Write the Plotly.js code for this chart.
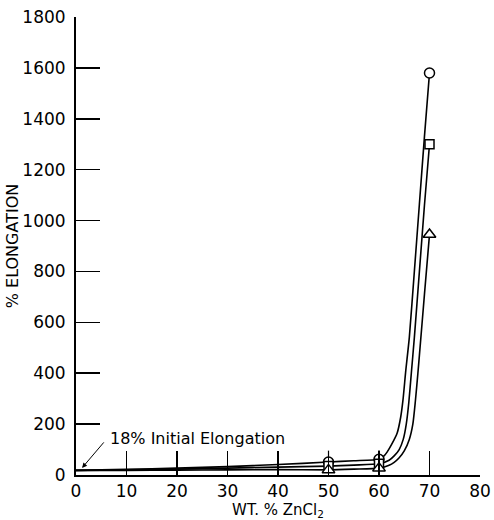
<!DOCTYPE html>
<html>
<head>
<meta charset="utf-8">
<script src="https://cdn.plot.ly/plotly-3.0.1.min.js"></script>
<style>html,body{margin:0;padding:0;background:#fff;}#chart{width:494px;height:520px;}</style>
</head>
<body>
<div id="chart"></div>
<script>
// Fitted curves
const circleCurveX = [0, 10, 20, 30, 40, 50, 55, 60, 61, 61.6, 62.5, 63.6, 64.3, 64.75, 65.3, 66, 67, 68, 69, 70];
const circleCurveY = [18, 22, 27, 33, 41, 51, 56, 62, 75, 90, 120, 165, 228, 295, 410, 540, 800, 1065, 1330, 1580];
const squareCurveX = [0, 10, 20, 30, 40, 50, 55, 60, 62, 63, 64, 64.8, 65.4, 65.9, 66.4, 67, 68, 69, 70];
const squareCurveY = [18, 20, 23, 27, 31, 35, 39, 44, 58, 75, 100, 140, 200, 285, 400, 540, 800, 1060, 1300];
const triangleCurveX = [0, 10, 20, 30, 40, 50, 55, 60, 62, 63, 64, 65, 66, 66.7, 67.2, 67.7, 68, 69, 70];
const triangleCurveY = [18, 18, 19, 20, 21, 20, 23, 27, 38, 50, 68, 95, 140, 200, 290, 400, 470, 710, 945];

// Measured points
const markerX = [50, 60, 70];
const circleY = [51, 62, 1580];
const squareY = [35, 44, 1300];
const triangleY = [20, 27, 945];
const dashX = [50, 60];
const dashY = [82, 84];

const xTicks = [0, 10, 20, 30, 40, 50, 60, 70, 80];
const yTicks = [0, 200, 400, 600, 800, 1000, 1200, 1400, 1600, 1800];

const FONT = 'DejaVu Sans, sans-serif';
const lineStyle = {color: '#000', width: 1.6, shape: 'spline', smoothing: 0.6};

const traces = [
  {x: circleCurveX, y: circleCurveY, mode: 'lines', line: lineStyle, hoverinfo: 'skip'},
  {x: squareCurveX, y: squareCurveY, mode: 'lines', line: lineStyle, hoverinfo: 'skip'},
  {x: triangleCurveX, y: triangleCurveY, mode: 'lines', line: lineStyle, hoverinfo: 'skip'},
  {x: markerX, y: circleY, mode: 'markers', marker: {symbol: 'circle', size: 10, color: '#fff', line: {color: '#000', width: 1.5}}},
  {x: markerX, y: squareY, mode: 'markers', marker: {symbol: 'square', size: 9, color: '#fff', line: {color: '#000', width: 1.5}}},
  {x: markerX, y: triangleY, mode: 'markers', marker: {symbol: 'triangle-up', size: 11, color: '#fff', line: {color: '#000', width: 1.5}}},
  {x: dashX, y: dashY, mode: 'markers', marker: {symbol: 'line-ns', size: 5, line: {color: '#000', width: 1.2}}}
];

const layout = {
  width: 494, height: 520,
  margin: {l: 76, r: 14, t: 17, b: 45},
  paper_bgcolor: '#fff', plot_bgcolor: '#fff',
  showlegend: false,
  font: {family: FONT, color: '#000', size: 17},
  xaxis: {
    range: [0, 80], tickvals: xTicks, ticktext: xTicks.map(String),
    showgrid: false, zeroline: false, showline: true, linecolor: '#000', linewidth: 2,
    ticks: 'inside', ticklen: 24, tickwidth: 1.5, tickcolor: '#000',
    tickfont: {family: FONT, size: 17, color: '#000'},
    title: {text: 'WT. % ZnCl<sub>2</sub>', font: {family: FONT, size: 15, color: '#000'}, standoff: 5}
  },
  yaxis: {
    range: [0, 1800], tickvals: yTicks, ticktext: yTicks.map(String),
    showgrid: false, zeroline: false, showline: true, linecolor: '#000', linewidth: 2,
    ticks: 'inside', ticklen: 24, tickwidth: 1.5, tickcolor: '#000',
    ticklabelstandoff: 5,
    tickfont: {family: FONT, size: 17, color: '#000'},
    title: {text: '% ELONGATION', font: {family: FONT, size: 16, color: '#000'}, standoff: 0}
  },
  annotations: [
    {x: 24, y: 145, xref: 'x', yref: 'y', text: '18% Initial Elongation', showarrow: false,
     font: {family: FONT, size: 16, color: '#000'}},
    {x: 1.2, y: 28, xref: 'x', yref: 'y', text: '', showarrow: true, ax: 23, ay: -27,
     arrowhead: 2, arrowsize: 1, arrowwidth: 1, arrowcolor: '#000'}
  ]
};

Plotly.newPlot('chart', traces, layout, {displayModeBar: false, staticPlot: true});
</script>
</body>
</html>
